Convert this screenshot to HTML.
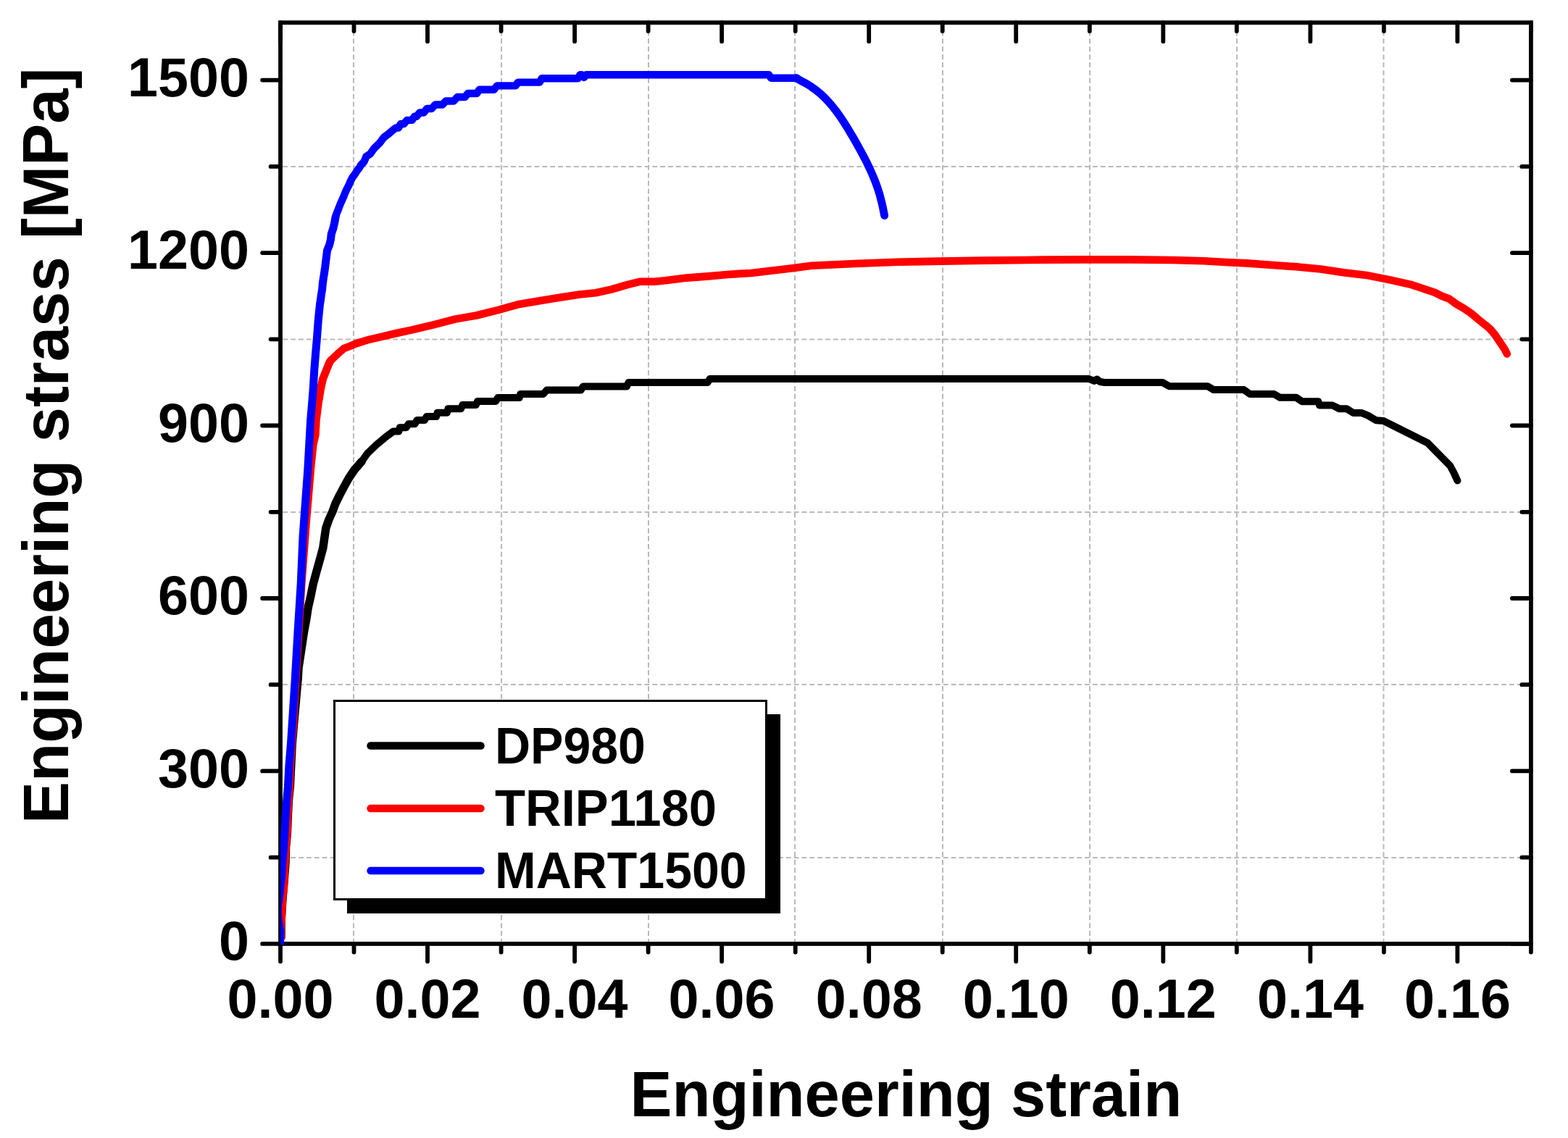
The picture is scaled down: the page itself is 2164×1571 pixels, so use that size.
<!DOCTYPE html>
<html><head><meta charset="utf-8"><title>Engineering stress-strain curves</title>
<style>
html,body{margin:0;padding:0;background:#fff;overflow:hidden;}
svg{display:block;}
text{font-family:"Liberation Sans",Arial,sans-serif;font-weight:bold;fill:#000;}
.tl{font-size:75.5px;}
.lg{font-size:68px;}
.at{font-size:86px;}
.g{stroke:#b9b9b9;stroke-width:2;}
</style></head><body>
<svg width="2164" height="1571" viewBox="0 0 2164 1571">
<defs><clipPath id="pc"><rect x="387.1" y="31" width="1726" height="1273"/></clipPath></defs>
<rect width="2164" height="1571" fill="#fff"/>
<line x1="488" y1="31.16" x2="488" y2="1302.90" class="g" stroke-dasharray="7.0 3.9" stroke-dashoffset="10.5"/>
<line x1="692" y1="31.16" x2="692" y2="1302.90" class="g" stroke-dasharray="7.0 3.9" stroke-dashoffset="10.5"/>
<line x1="895" y1="31.16" x2="895" y2="1302.90" class="g" stroke-dasharray="7.0 3.9" stroke-dashoffset="10.5"/>
<line x1="1097" y1="31.16" x2="1097" y2="1302.90" class="g" stroke-dasharray="7.0 3.9" stroke-dashoffset="10.5"/>
<line x1="1301" y1="31.16" x2="1301" y2="1302.90" class="g" stroke-dasharray="7.0 3.9" stroke-dashoffset="10.5"/>
<line x1="1504" y1="31.16" x2="1504" y2="1302.90" class="g" stroke-dasharray="7.0 3.9" stroke-dashoffset="10.5"/>
<line x1="1707" y1="31.16" x2="1707" y2="1302.90" class="g" stroke-dasharray="7.0 3.9" stroke-dashoffset="10.5"/>
<line x1="1909.5" y1="31.16" x2="1909.5" y2="1302.90" class="g" stroke-dasharray="7.0 3.9" stroke-dashoffset="10.5"/>
<line x1="387.00" y1="1184" x2="2112.93" y2="1184" class="g" stroke-dasharray="6.8 4.05" stroke-dashoffset="7.45"/>
<line x1="387.00" y1="945" x2="2112.93" y2="945" class="g" stroke-dasharray="6.8 4.05" stroke-dashoffset="7.45"/>
<line x1="387.00" y1="707" x2="2112.93" y2="707" class="g" stroke-dasharray="6.8 4.05" stroke-dashoffset="7.45"/>
<line x1="387.00" y1="468.5" x2="2112.93" y2="468.5" class="g" stroke-dasharray="6.8 4.05" stroke-dashoffset="7.45"/>
<line x1="387.00" y1="230" x2="2112.93" y2="230" class="g" stroke-dasharray="6.8 4.05" stroke-dashoffset="7.45"/>
<path d="M387.0,1302.9V1327.3M387.0,31.2V57.2M488.5,1302.9V1314.6M488.5,31.2V43.1M590.0,1302.9V1327.3M590.0,31.2V57.2M691.6,1302.9V1314.6M691.6,31.2V43.1M793.1,1302.9V1327.3M793.1,31.2V57.2M894.6,1302.9V1314.6M894.6,31.2V43.1M996.1,1302.9V1327.3M996.1,31.2V57.2M1097.7,1302.9V1314.6M1097.7,31.2V43.1M1199.2,1302.9V1327.3M1199.2,31.2V57.2M1300.7,1302.9V1314.6M1300.7,31.2V43.1M1402.2,1302.9V1327.3M1402.2,31.2V57.2M1503.8,1302.9V1314.6M1503.8,31.2V43.1M1605.3,1302.9V1327.3M1605.3,31.2V57.2M1706.8,1302.9V1314.6M1706.8,31.2V43.1M1808.4,1302.9V1327.3M1808.4,31.2V57.2M1909.9,1302.9V1314.6M1909.9,31.2V43.1M2011.4,1302.9V1327.3M2011.4,31.2V57.2M2112.9,1302.9V1314.6M2112.9,31.2V43.1M387.0,1302.9H362.1M2112.9,1302.9H2086.9M387.0,1183.7H373.6M2112.9,1183.7H2100.3M387.0,1064.4H362.1M2112.9,1064.4H2086.9M387.0,945.2H373.6M2112.9,945.2H2100.3M387.0,826.0H362.1M2112.9,826.0H2086.9M387.0,706.8H373.6M2112.9,706.8H2100.3M387.0,587.5H362.1M2112.9,587.5H2086.9M387.0,468.3H373.6M2112.9,468.3H2100.3M387.0,349.1H362.1M2112.9,349.1H2086.9M387.0,229.9H373.6M2112.9,229.9H2100.3M387.0,110.6H362.1M2112.9,110.6H2086.9" stroke="#000" stroke-width="5.8" stroke-linecap="round" fill="none"/>
<rect x="387.0" y="31.2" width="1725.9" height="1271.7" fill="none" stroke="#000" stroke-width="5.8"/>
<g clip-path="url(#pc)">
<polyline points="388.0,1294.0 388.0,1272.0 390.0,1240.0 392.5,1211.0 394.0,1191.0 394.5,1170.0 396.4,1150.0 397.4,1124.1 398.4,1105.0 400.3,1085.9 401.7,1057.3 403.1,1028.6 405.5,1000.0 409.5,955.1 411.0,938.6 412.0,922.0 414.5,905.5 417.0,888.9 419.5,872.4 422.6,855.8 425.1,839.3 428.9,822.7 432.2,806.2 436.7,789.6 441.3,773.1 445.8,756.5 448.1,740.4 449.8,728.9 453.8,717.5 459.0,706.0 463.2,694.6 468.9,683.1 475.0,671.6 481.3,660.2 489.0,648.7 499.0,637.3" fill="none" stroke="#000000" stroke-width="11.5" stroke-linejoin="round" stroke-linecap="round"/>
<polyline points="499.0,637.3 507.1,625.8 519.1,614.4 532.8,602.9 543.0,595.4 550.4,595.4 551.8,590.2 560.7,590.2 563.7,585.3 572.5,585.3 575.5,580.1 585.8,580.1 588.8,575.0 602.1,575.0 603.6,569.8 616.9,569.8 618.4,564.3 636.1,564.3 638.3,559.1 656.8,559.1 659.0,554.0 684.2,554.0 687.1,549.0 716.7,549.0 718.2,543.9 750.0,543.9 754.4,538.6 801.7,538.6 804.7,533.4 865.0,533.4 867.5,528.1 976.4,528.1 979.7,523.0 1502.8,523.0 1510.0,526.0 1514.0,523.5 1518.0,527.0 1524.4,528.0 1604.4,528.0 1614.1,533.3 1666.8,533.3 1675.0,538.1 1716.7,538.1 1725.0,544.0 1758.3,544.0 1766.6,548.8 1788.8,548.8 1797.0,554.2 1819.3,554.2 1821.0,559.4 1838.7,559.4 1848.3,564.3 1858.5,564.3 1867.7,569.9 1878.8,569.9 1888.0,573.6 1899.1,580.2 1909.3,581.0 1970.3,611.5 2001.3,643.0 2006.4,652.5 2011.4,663.5" fill="none" stroke="#000000" stroke-width="10" stroke-linejoin="round" stroke-linecap="round"/>
<polyline points="387.7,1294.0 387.4,1284.0 387.9,1274.0 388.7,1264.0 389.5,1248.0 390.0,1238.0 391.5,1228.0 392.3,1211.0 393.3,1191.0 394.3,1170.0 396.2,1150.0 397.1,1124.1 398.1,1105.0 399.5,1085.9 400.5,1057.3 402.4,1028.6 404.7,1000.0 408.0,938.6 412.0,872.4 416.0,806.2 421.0,740.0 422.7,717.5 425.7,683.1 428.5,648.7 432.0,614.4 435.2,600.2 436.2,580.6 439.1,557.6 442.9,534.7 445.5,523.2 450.1,511.7 454.7,500.3 456.6,497.5" fill="none" stroke="#ff0000" stroke-width="11.0" stroke-linejoin="round" stroke-linecap="round"/>
<polyline points="456.6,497.5 463.1,491.4 467.4,487.2 474.7,481.0 482.9,477.9 491.2,474.4 507.8,469.2 524.3,465.3 545.0,460.5 568.7,455.4 598.3,448.3 627.9,440.6 657.4,435.5 687.0,428.1 716.6,419.9 746.2,415.0 775.7,410.3 800.0,406.5 822.2,404.3 844.4,399.4 866.5,392.8 882.8,388.8 903.5,388.8 918.3,387.3 947.9,383.6 977.4,381.4 1007.0,378.7 1036.6,377.0 1066.2,373.6 1095.7,369.9 1120.0,366.8 1179.1,364.0 1238.3,361.8 1297.4,360.6 1356.6,359.6 1415.7,359.0 1440.0,358.6 1499.2,358.4 1558.3,358.4 1617.4,359.0 1661.8,360.3 1691.4,362.0 1721.0,363.4 1760.0,366.2 1791.4,368.4 1822.8,371.5 1854.3,376.2 1885.7,379.9 1917.1,386.1 1948.5,393.2 1980.0,403.7 1990.0,408.8 2000.0,412.5 2010.1,419.9 2020.1,425.6 2030.1,432.4 2040.1,440.8 2050.2,448.8 2056.8,454.5 2063.5,462.5 2070.2,472.5 2076.9,482.6 2079.8,488.5" fill="none" stroke="#ff0000" stroke-width="10.6" stroke-linejoin="round" stroke-linecap="round"/>
<polyline points="386.5,1308.0 386.5,1297.0 386.5,1284.0 384.4,1274.0 383.4,1264.0 383.7,1248.0 385.5,1238.0 386.5,1228.0 388.5,1211.0 389.8,1191.0 391.6,1170.0 392.9,1150.0 394.3,1124.1 395.7,1105.0 397.4,1085.9 398.9,1057.3 401.3,1028.6 403.2,1000.0 407.2,938.6 411.0,872.4 415.2,806.2 418.1,740.0 421.4,694.6 424.8,648.7 427.5,600.2 428.6,580.6 430.6,557.6 432.4,534.7 433.7,511.7 435.5,488.8 437.5,465.9 439.2,442.9 441.5,420.0 442.4,414.5 443.4,406.9 444.7,399.2 445.3,391.6 446.4,384.0 447.6,376.3 448.7,368.7 449.6,361.1 450.6,353.4 451.5,345.8 454.6,338.2 456.5,330.5 457.3,322.9 459.9,315.3 461.7,307.6 463.0,300.0" fill="none" stroke="#0000ff" stroke-width="11.0" stroke-linejoin="round" stroke-linecap="round"/>
<polyline points="463.0,300.0 464.0,296.2 466.1,291.1 468.0,286.0 470.0,280.9 472.3,275.8 474.5,270.8 476.5,265.7 478.8,260.6 481.5,255.5 483.6,250.4 486.2,245.3 490.0,240.2 493.2,235.1 496.2,231.5 498.1,227.7 502.1,223.8 503.9,220.0 505.3,216.2 511.1,212.4 513.6,208.6 516.5,204.7 520.3,200.9 524.3,197.1 527.0,193.3 530.0,189.5 536.6,184.5 543.0,179.0 546.5,176.5 550.0,176.5 553.0,171.0 557.6,171.0 561.6,165.9 568.7,165.9 572.0,160.8 575.0,160.8 579.2,155.5 584.8,155.5 589.2,150.0 595.7,150.0 600.7,144.5 610.7,144.5 615.2,139.5 626.2,139.5 631.2,134.0 641.7,134.0 645.7,129.0 658.0,129.0 661.6,123.8 681.7,123.8 685.9,118.4 711.5,118.4 715.0,113.6 744.8,113.6 747.6,108.3 797.5,108.3 800.5,103.2 803.0,103.2 806.0,107.0 809.0,103.2 1061.1,103.2 1064.0,107.8 1099.3,107.8" fill="none" stroke="#0000ff" stroke-width="10.4" stroke-linejoin="round" stroke-linecap="round"/>
<polyline points="1099.3,107.8 1104.2,110.9 1109.4,113.6 1114.6,116.5 1119.6,119.7 1124.5,123.2 1129.2,126.8 1133.7,130.7 1138.0,134.8 1142.2,139.1 1146.1,143.5 1149.9,148.1 1153.6,152.8 1157.1,157.6 1160.5,162.5 1163.8,167.5 1167.0,172.5 1170.2,177.6 1173.2,182.7 1176.3,187.8 1179.3,193.0 1182.2,198.2 1185.1,203.4 1188.0,208.6 1190.8,213.9 1193.6,219.1 1196.3,224.4 1198.9,229.8 1201.4,235.2 1203.8,240.6 1206.1,246.1 1208.3,251.6 1210.3,257.2 1212.2,262.8 1214.0,268.5 1215.5,274.3 1217.0,280.1 1218.3,285.9 1219.5,291.8 1220.6,297.6" fill="none" stroke="#0000ff" stroke-width="10.9" stroke-linejoin="round" stroke-linecap="round"/>
</g>
<text x="387.0" y="1404.8" class="tl" text-anchor="middle">0.00</text>
<text x="590.0" y="1404.8" class="tl" text-anchor="middle">0.02</text>
<text x="793.1" y="1404.8" class="tl" text-anchor="middle">0.04</text>
<text x="996.1" y="1404.8" class="tl" text-anchor="middle">0.06</text>
<text x="1199.2" y="1404.8" class="tl" text-anchor="middle">0.08</text>
<text x="1402.2" y="1404.8" class="tl" text-anchor="middle">0.10</text>
<text x="1605.3" y="1404.8" class="tl" text-anchor="middle">0.12</text>
<text x="1808.4" y="1404.8" class="tl" text-anchor="middle">0.14</text>
<text x="2011.4" y="1404.8" class="tl" text-anchor="middle">0.16</text>
<text x="344" y="1325.2" class="tl" text-anchor="end">0</text>
<text x="344" y="1086.7" class="tl" text-anchor="end">300</text>
<text x="344" y="848.3" class="tl" text-anchor="end">600</text>
<text x="344" y="609.8" class="tl" text-anchor="end">900</text>
<text x="344" y="371.4" class="tl" text-anchor="end">1200</text>
<text x="344" y="132.9" class="tl" text-anchor="end">1500</text>
<rect x="479" y="986" width="598" height="275" fill="#000"/>
<rect x="461.5" y="967.5" width="596" height="274" fill="#fff" stroke="#000" stroke-width="3"/>
<line x1="511.5" y1="1029.5" x2="663.5" y2="1029.5" stroke="#000" stroke-width="10.5" stroke-linecap="round"/>
<line x1="511.5" y1="1116.1" x2="663.5" y2="1116.1" stroke="#ff0000" stroke-width="10.5" stroke-linecap="round"/>
<line x1="511.5" y1="1202.1" x2="663.5" y2="1202.1" stroke="#0000ff" stroke-width="10.5" stroke-linecap="round"/>
<text transform="translate(683,1054) scale(1,1.04)" class="lg">DP980</text>
<text transform="translate(683,1140.2) scale(1.012,1.04)" class="lg">TRIP1180</text>
<text transform="translate(683,1226) scale(1,1.04)" class="lg">MART1500</text>
<text transform="translate(1250.35,1540.6) scale(1.009,1.035)" class="at" text-anchor="middle">Engineering strain</text>
<text transform="translate(93.6,615.2) rotate(-90) scale(1.011,1.035)" class="at" text-anchor="middle">Engineering strass [MPa]</text>
</svg>
</body></html>
